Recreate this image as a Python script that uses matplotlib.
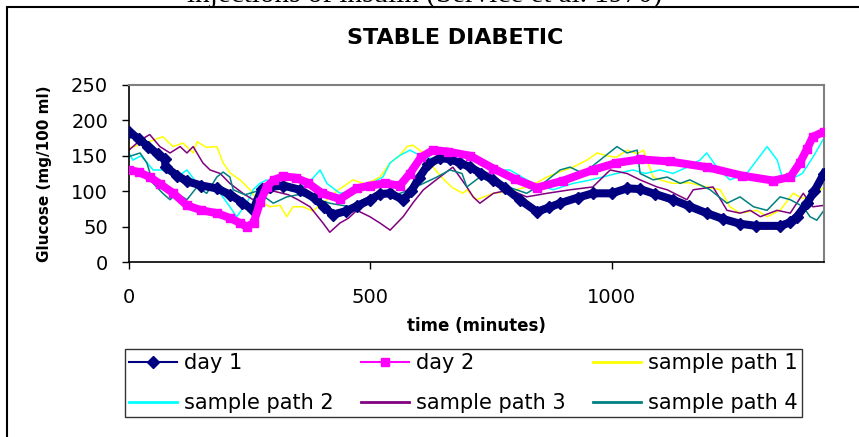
import matplotlib
matplotlib.use('Agg')
import matplotlib.pyplot as plt
from matplotlib.lines import Line2D
from matplotlib.patches import Rectangle

# day 1 / day 2 measured glucose (minutes, mg/100 ml)
day1_t = [0, 20, 40, 60, 74, 76, 100, 120, 150, 182, 210, 235, 257, 275, 292, 320, 354, 385, 405, 423,
          450, 472, 500, 520, 541, 568, 585, 600, 620, 644, 665, 686, 707, 730, 755, 780, 810, 845, 870,
          893, 930, 961, 1000, 1032, 1059, 1090, 1127, 1160, 1197, 1230, 1266, 1300, 1349, 1370, 1384,
          1405, 1420, 1440]
day1_v = [184, 174, 163, 152, 145, 134, 122, 114, 108, 104, 95, 84, 73, 103, 106, 108, 102, 90, 77, 67,
          72, 79, 88, 96, 97, 88, 100, 118, 138, 147, 145, 140, 134, 125, 116, 104, 88, 71, 77,
          83, 91, 97, 97, 104, 103, 96, 88, 79, 69, 61, 54, 51, 51, 56, 64,
          83, 100, 125]

day2_t = [0, 20, 43, 65, 92, 120, 150, 182, 210, 230, 244, 258, 272, 285, 300, 320, 345, 370, 400, 437,
          472, 500, 530, 561, 582, 605, 630, 660, 707, 755, 800, 845, 900, 961, 1010, 1059, 1120, 1197,
          1270, 1335, 1370, 1390, 1405, 1417, 1440]
day2_v = [130, 127, 120, 110, 97, 80, 73, 69, 62, 55, 50, 55, 85, 106, 116, 121, 119, 112, 97, 89,
          104, 108, 111, 108, 125, 148, 158, 156, 150, 132, 117, 105, 115, 130, 140, 145, 142, 134,
          122, 115, 120, 140, 160, 177, 184]

# simulated sample paths
sp1_t = [0, 20, 50, 70, 91, 112, 133, 141, 160, 182, 195, 209, 230, 251, 265, 292, 313, 327, 340, 361,
         380, 400, 430, 464, 490, 520, 541, 560, 576, 588, 610, 630, 650, 670, 692, 700, 720, 755, 790,
         824, 845, 866, 895, 920, 949, 970, 990, 1010, 1032, 1053, 1066, 1073, 1086, 1105, 1127, 1160,
         1197, 1225, 1245, 1266, 1301, 1322, 1349, 1376, 1395, 1417, 1440]
sp1_v = [161, 165, 172, 177, 163, 168, 154, 170, 162, 163, 140, 126, 116, 102, 88, 78, 80, 64, 78, 78,
         72, 82, 100, 116, 110, 120, 140, 150, 163, 165, 154, 134, 118, 105, 97, 102, 88, 97, 100,
         106, 112, 120, 128, 134, 144, 154, 150, 148, 158, 153, 158, 144, 120, 115, 111, 112,
         106, 102, 78, 69, 73, 64, 73, 97, 90, 92, 106]

sp2_t = [0, 8, 25, 50, 70, 99, 120, 141, 168, 189, 209, 223, 244, 257, 271, 285, 310, 340, 370, 396,
         410, 437, 472, 500, 526, 541, 560, 582, 610, 640, 670, 707, 730, 755, 789, 837, 879, 920, 950,
         982, 1010, 1044, 1070, 1100, 1127, 1160, 1183, 1197, 1218, 1245, 1280, 1301, 1322, 1343, 1355,
         1375, 1395, 1417, 1440]
sp2_v = [154, 144, 150, 130, 130, 120, 130, 111, 102, 97, 78, 64, 83, 102, 111, 116, 105, 100, 110, 130,
         111, 97, 102, 110, 120, 140, 150, 158, 148, 145, 150, 154, 140, 130, 130, 111, 102, 111, 115,
         120, 125, 130, 125, 130, 125, 135, 144, 154, 134, 116, 125, 144, 163, 144, 116,
         118, 125, 148, 175]

sp3_t = [0, 23, 43, 64, 85, 106, 120, 133, 153, 168, 189, 209, 236, 257, 275, 300, 330, 350, 375, 402,
         416, 437, 455, 472, 499, 520, 541, 568, 590, 610, 644, 671, 700, 713, 727, 755, 789, 824, 866,
         914, 961, 997, 1032, 1059, 1094, 1115, 1156, 1169, 1210, 1239, 1266, 1287, 1308, 1343, 1370,
         1397, 1417, 1440]
sp3_v = [158, 172, 180, 163, 154, 163, 154, 163, 140, 130, 125, 111, 97, 88, 95, 100, 95, 88, 78, 55,
         42, 55, 62, 73, 64, 55, 45, 64, 85, 102, 120, 134, 106, 92, 83, 97, 102, 92, 97,
         102, 106, 130, 125, 116, 106, 102, 88, 102, 106, 73, 69, 73, 64, 73, 69,
         97, 78, 80]

sp4_t = [0, 23, 37, 50, 70, 85, 99, 120, 141, 161, 182, 195, 209, 216, 240, 265, 299, 327, 350, 375,
         416, 458, 485, 514, 541, 582, 610, 638, 665, 690, 700, 727, 760, 790, 824, 860, 893, 914, 941,
         976, 1011, 1032, 1053, 1059, 1086, 1115, 1142, 1162, 1204, 1239, 1266, 1294, 1322, 1349, 1370,
         1397, 1411, 1425, 1440]
sp4_v = [149, 154, 140, 111, 97, 88, 97, 88, 106, 97, 120, 127, 120, 102, 95, 100, 83, 92, 95, 92,
         83, 78, 88, 97, 92, 102, 111, 120, 130, 125, 106, 120, 110, 105, 97, 112, 130, 134, 125,
         144, 163, 154, 158, 125, 116, 120, 111, 116, 102, 83, 92, 78, 73, 92, 88,
         78, 64, 59, 73]

x_ticks = [0, 500, 1000]
y_ticks = [0, 50, 100, 150, 200, 250]

navy = '#000080'
pink = '#FF00FF'
c_sp = ['#FFFF00', '#00FFFF', '#800080', '#008080']

fig = plt.figure(figsize=(8.59, 4.37), dpi=100)
ax = fig.add_axes([129/859, 1 - 262/437, (824-129)/859, (262-85)/437])

for t, v, c in zip([sp1_t, sp2_t, sp3_t, sp4_t], [sp1_v, sp2_v, sp3_v, sp4_v], c_sp):
    ax.plot(t, v, color=c, lw=1.1, zorder=2)

ax.plot(day1_t, day1_v, color=navy, lw=5.8, marker='D', ms=6, zorder=3)
ax.plot(day2_t, day2_v, color=pink, lw=5.8, marker='s', ms=6, zorder=4)

ax.set_xlim(0, 1440)
ax.set_ylim(0, 250)
ax.set_xticks(x_ticks)
ax.set_yticks(y_ticks)
ax.tick_params(axis='both', labelsize=14, length=5, width=1, color='black', direction='out')
ax.tick_params(axis='x', pad=14)
ax.tick_params(axis='y', pad=10)
for s in ['left', 'bottom']:
    ax.spines[s].set_color('black')
    ax.spines[s].set_linewidth(1.2)
for s in ['top', 'right']:
    ax.spines[s].set_color('#808080')
    ax.spines[s].set_linewidth(1.5)

ax.set_xlabel('time (minutes)', fontsize=12, fontweight='bold', labelpad=7)
ax.set_ylabel('Glucose (mg/100 ml)', fontsize=11, fontweight='bold', labelpad=14)
fig.text(455/859, 1 - 38/437, 'STABLE DIABETIC', fontsize=16, fontweight='bold',
         ha='center', va='center')

# caption cut off at the top edge, as in the source page
fig.text(425/859, 1 - 3/437, 'injections of insulin (Service et al. 1970)',
         family='Liberation Serif', fontsize=21, ha='center', va='baseline')

# outer chart frame
fig.add_artist(Rectangle((7/859, -0.1), 1.2, 1.1 - 7/437, transform=fig.transFigure,
                         fill=False, edgecolor='black', lw=1.5))

h = {
    'day 1': Line2D([], [], color=navy, lw=1.5, marker='D', ms=6),
    'day 2': Line2D([], [], color=pink, lw=1.5, marker='s', ms=6),
    'sample path 1': Line2D([], [], color=c_sp[0], lw=2),
    'sample path 2': Line2D([], [], color=c_sp[1], lw=2),
    'sample path 3': Line2D([], [], color=c_sp[2], lw=2),
    'sample path 4': Line2D([], [], color=c_sp[3], lw=2),
}
# legend is filled row by row in the reference
order = ['day 1', 'sample path 2', 'day 2', 'sample path 3', 'sample path 1', 'sample path 4']
leg = fig.legend([h[k] for k in order], order, ncol=3, loc='upper left', mode='expand',
                 bbox_to_anchor=(125/859, 1 - 420/437, 677/859, 71/437), borderaxespad=0,
                 fontsize=15, frameon=True, fancybox=False, edgecolor='black',
                 handlelength=2.3, handletextpad=0.35, labelspacing=0.95, borderpad=0.2)
leg.get_frame().set_linewidth(1.0)

fig.savefig('out.png', dpi=100)
